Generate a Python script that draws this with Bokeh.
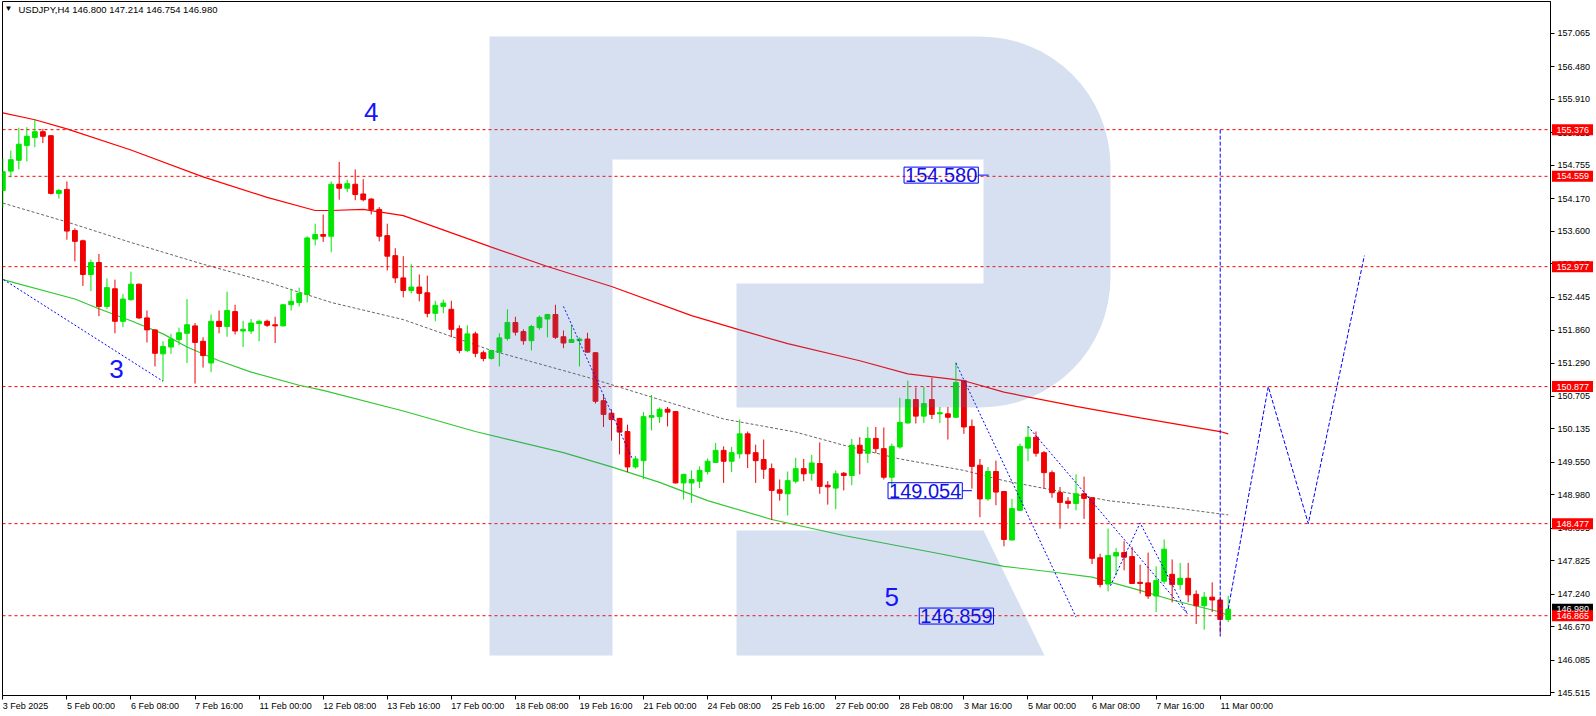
import math
from bokeh.plotting import figure
from bokeh.layouts import row
from bokeh.models import (Range1d, FixedTicker, PrintfTickFormatter, Span, Label,
                          ColumnDataSource)
from bokeh.core.properties import value
from bokeh.embed import file_html
from bokeh.resources import INLINE

# ---------------- data ----------------
symbol = "USDJPY,H4"

opens = [154.31, 154.65, 154.84, 155.10, 155.24, 155.34, 155.27, 154.26, 154.33, 153.61,
         153.43, 152.84, 153.05, 152.28, 152.59, 152.02, 152.40, 152.67, 152.08, 151.87,
         151.45, 151.57, 151.70, 151.81, 151.94, 151.67, 151.29, 152.02, 151.93, 152.19,
         151.85, 151.85, 151.98, 152.02, 151.96, 151.94, 152.31, 152.35, 152.49, 153.46,
         153.54, 153.51, 154.42, 154.35, 154.42, 154.25, 154.16, 153.98, 153.52, 153.17,
         152.78, 152.56, 152.62, 152.52, 152.16, 152.28, 152.23, 151.89, 151.51, 151.80,
         151.47, 151.37, 151.48, 151.72, 152.00, 151.84, 151.68, 151.91, 152.06, 152.14,
         151.75, 151.65, 151.68, 151.71, 151.47, 150.63, 150.41, 150.32, 150.09, 149.47,
         149.58, 150.34, 150.35, 150.48, 150.44, 149.19, 149.19, 149.22, 149.39, 149.55,
         149.76, 149.57, 149.70, 150.05, 149.72, 149.60, 149.44, 149.07, 149.00, 149.22,
         149.44, 149.36, 149.53, 149.15, 149.10, 149.36, 149.32, 149.85, 149.71, 149.97,
         149.79, 149.29, 149.82, 150.24, 150.65, 150.36, 150.65, 150.40, 150.40, 150.34,
         150.98, 150.18, 149.50, 148.91, 149.39, 149.04, 148.19, 148.71, 149.80, 149.99,
         149.72, 149.37, 149.02, 148.87, 148.83, 149.00, 148.93, 147.88, 147.42, 147.91,
         147.97, 147.90, 147.45, 147.44, 147.21, 147.47, 147.59, 147.41, 147.52, 147.24,
         147.04, 147.19, 147.14, 146.800]
highs = [154.87, 155.01, 155.41, 155.42, 155.55, 155.39, 155.28, 154.34, 154.47, 153.65,
         153.45, 153.10, 153.20, 152.77, 152.75, 152.50, 152.89, 152.68, 152.21, 151.88,
         151.67, 151.80, 151.91, 152.41, 151.99, 151.74, 152.14, 152.21, 152.54, 152.31,
         152.03, 152.06, 152.05, 152.05, 152.10, 152.32, 152.59, 152.61, 153.51, 153.73,
         153.89, 154.47, 154.81, 154.50, 154.68, 154.51, 154.18, 154.02, 153.73, 153.30,
         153.16, 153.02, 152.84, 152.82, 152.38, 152.40, 152.38, 151.95, 151.95, 151.84,
         151.51, 151.51, 151.81, 152.23, 152.10, 151.88, 151.96, 152.12, 152.15, 152.31,
         151.86, 151.96, 151.74, 151.82, 151.48, 150.74, 150.48, 150.33, 150.21, 149.66,
         150.43, 150.73, 150.51, 150.52, 150.45, 149.35, 149.41, 149.48, 149.62, 149.89,
         149.83, 149.82, 150.30, 150.09, 149.86, 149.95, 149.53, 149.25, 149.39, 149.63,
         149.61, 149.68, 149.90, 149.22, 149.41, 149.38, 149.96, 149.99, 150.17, 150.17,
         150.16, 149.88, 150.68, 150.98, 150.86, 150.87, 151.03, 150.52, 150.52, 151.30,
         150.99, 150.30, 149.61, 149.47, 149.58, 149.05, 148.91, 149.88, 150.18, 150.09,
         149.75, 149.41, 149.12, 148.94, 149.34, 149.30, 148.94, 147.95, 148.39, 148.05,
         148.17, 148.07, 147.76, 147.97, 147.73, 148.20, 147.85, 147.79, 147.79, 147.31,
         147.28, 147.45, 147.20, 147.214]
lows = [154.01, 154.54, 154.68, 154.82, 155.07, 155.14, 154.24, 154.17, 153.45, 153.07,
        152.64, 152.55, 152.11, 152.24, 151.81, 151.92, 152.38, 152.06, 151.65, 151.23,
        150.97, 151.45, 151.60, 151.29, 150.93, 151.21, 151.13, 151.81, 151.75, 151.79,
        151.57, 151.80, 151.67, 151.92, 151.64, 151.93, 152.21, 152.28, 152.35, 153.35,
        153.41, 153.23, 154.15, 154.28, 154.14, 154.12, 153.89, 153.42, 152.91, 152.69,
        152.44, 152.51, 152.37, 152.09, 152.02, 152.16, 151.74, 151.46, 151.48, 151.39,
        151.32, 151.35, 151.23, 151.68, 151.77, 151.61, 151.51, 151.87, 151.74, 151.71,
        151.55, 151.65, 151.23, 151.47, 150.58, 150.17, 149.93, 149.69, 149.38, 149.44,
        149.26, 150.11, 150.24, 150.18, 149.18, 148.90, 148.84, 149.10, 149.34, 149.54,
        149.19, 149.38, 149.62, 149.45, 149.19, 149.26, 148.54, 148.88, 148.62, 149.18,
        149.22, 149.23, 149.00, 148.81, 148.73, 149.06, 149.15, 149.34, 149.54, 149.71,
        149.25, 149.12, 149.79, 150.23, 150.23, 150.24, 150.31, 150.24, 149.95, 150.33,
        150.05, 149.09, 148.59, 148.88, 148.80, 148.08, 148.19, 148.70, 149.57, 149.65,
        149.09, 148.93, 148.39, 148.74, 148.71, 148.56, 147.77, 147.36, 147.29, 147.57,
        147.66, 147.42, 147.25, 147.16, 146.93, 147.42, 147.10, 147.32, 147.10, 146.72,
        146.62, 146.93, 146.55, 146.754]
closes = [154.64, 154.85, 155.12, 155.26, 155.34, 155.26, 154.26, 154.31, 153.60, 153.42,
          152.84, 153.05, 152.28, 152.61, 152.02, 152.41, 152.67, 152.08, 151.87, 151.46,
          151.58, 151.71, 151.82, 151.96, 151.65, 151.42, 152.02, 151.93, 152.21, 151.85,
          151.88, 151.99, 152.02, 151.95, 151.94, 152.31, 152.37, 152.51, 153.48, 153.54,
          153.51, 154.42, 154.35, 154.43, 154.24, 154.15, 153.98, 153.51, 153.16, 152.78,
          152.56, 152.62, 152.51, 152.16, 152.30, 152.34, 151.88, 151.51, 151.80, 151.46,
          151.37, 151.51, 151.73, 152.00, 151.83, 151.68, 151.93, 152.09, 152.14, 151.74,
          151.64, 151.70, 151.71, 151.48, 150.62, 150.39, 150.30, 150.08, 149.47, 149.61,
          150.35, 150.37, 150.48, 150.43, 149.19, 149.34, 149.25, 149.41, 149.57, 149.76,
          149.57, 149.72, 150.05, 149.70, 149.58, 149.43, 149.06, 149.01, 149.23, 149.44,
          149.35, 149.54, 149.13, 149.12, 149.35, 149.32, 149.85, 149.71, 149.97, 149.79,
          149.29, 149.83, 150.25, 150.65, 150.36, 150.58, 150.39, 150.42, 150.34, 150.95,
          150.17, 149.48, 148.91, 149.39, 149.03, 148.20, 148.74, 149.83, 149.99, 149.71,
          149.37, 149.02, 148.85, 148.83, 149.00, 148.92, 147.87, 147.41, 147.92, 147.97,
          147.89, 147.43, 147.43, 147.21, 147.48, 148.03, 147.41, 147.52, 147.23, 147.04,
          147.19, 147.14, 146.80, 146.980]

x_tick_idx = [0, 8, 16, 24, 32, 40, 48, 56, 64, 72, 80, 88, 96, 104, 112, 120, 128, 136, 144, 152]
x_tick_labels = ["3 Feb 2025", "5 Feb 00:00", "6 Feb 08:00", "7 Feb 16:00", "11 Feb 00:00",
                 "12 Feb 08:00", "13 Feb 16:00", "17 Feb 00:00", "18 Feb 08:00", "19 Feb 16:00",
                 "21 Feb 00:00", "24 Feb 08:00", "25 Feb 16:00", "27 Feb 00:00", "28 Feb 08:00",
                 "3 Mar 16:00", "5 Mar 00:00", "6 Mar 08:00", "7 Mar 16:00", "11 Mar 00:00"]
y_ticks = [157.065, 156.480, 155.910, 155.325, 154.755, 154.170, 153.600, 153.030, 152.445,
           151.860, 151.290, 150.705, 150.135, 149.550, 148.980, 148.395, 147.825, 147.240,
           146.670, 146.085, 145.515]

ma_red_idx = [0, 4, 8, 16, 25, 33, 39, 41, 45, 50, 61, 68, 76, 86, 92, 98, 107, 113, 120,
              125, 134, 142, 152, 153]
ma_red_val = [155.67, 155.55, 155.39, 155.02, 154.55, 154.19, 153.96, 153.96, 153.98, 153.87,
              153.32, 152.98, 152.63, 152.12, 151.87, 151.63, 151.33, 151.10, 150.98, 150.78,
              150.53, 150.33, 150.09, 150.05]
ma_gray_idx = [0, 8, 16, 25, 33, 41, 50, 61, 73, 82, 90, 99, 105, 112, 120, 125, 138, 147, 153]
ma_gray_val = [154.09, 153.76, 153.40, 153.02, 152.71, 152.35, 152.05, 151.51, 151.04, 150.65,
               150.31, 150.08, 149.85, 149.61, 149.41, 149.23, 148.88, 148.74, 148.63]
ma_green_idx = [0, 9, 12, 16, 20, 23, 27, 31, 37, 40, 50, 59, 70, 76, 82, 88, 96, 105, 117,
                125, 131, 136, 142, 146, 152, 153]
ma_green_val = [152.75, 152.41, 152.24, 152.03, 151.80, 151.57, 151.33, 151.13, 150.90, 150.81,
                150.45, 150.09, 149.72, 149.47, 149.20, 148.88, 148.55, 148.27, 147.95, 147.73,
                147.63, 147.54, 147.31, 147.14, 146.93, 146.87]

levels = [155.376, 154.559, 152.977, 150.877, 148.477, 146.865]
current_price = closes[-1]

# wave trend lines (bar index, price)
wave_x = [[0.1, 20.0], [70.0, 78.6], [119.0, 134.0], [128.0, 147.9], [138.3, 142.0, 147.9]]
wave_y = [[152.75, 150.97], [152.28, 149.61], [151.29, 146.84], [150.18, 146.90],
          [147.39, 148.49, 146.90]]
# forecast
forecast_vert_x = [152, 152]
forecast_vert_y = [155.376, 146.50]
forecast_x = [153, 158, 163, 170]
forecast_y = [146.98, 150.877, 148.477, 153.17]

wave_numbers = ["3", "4", "5"]
wave_number_idx = [14.2, 46.0, 111.0]
wave_number_price = [151.19, 155.68, 147.19]

note_values = [154.580, 149.054, 146.859]
note_box_right_idx = [121.8, 119.8, 123.7]
note_anchor_idx = [123.1, 121.0, 123.7]

# ---------------- layout constants ----------------
W, H = 1596, 716
FL, FR, FT, FB = 2, 1550, 1, 695          # frame edges on the page
X_START, X_END = -0.04, 193.24
Y_START, Y_END = 145.468, 157.620
PX_PER_BAR = (FR - FL) / (X_END - X_START)
FONT = "Liberation Sans"

CHAR_EM = {" ": 0.278, ":": 0.278, "F": 0.611, "e": 0.556, "b": 0.556, "M": 0.833,
           "a": 0.556, "r": 0.333}


def text_width(s, size=9.0):
    return sum(CHAR_EM.get(ch, 0.556) for ch in s) * size


p = figure(width=W, height=H, x_range=Range1d(X_START, X_END),
           y_range=Range1d(Y_START, Y_END), output_backend="svg", toolbar_location=None,
           y_axis_location="right", min_border_left=FL, min_border_top=FT,
           min_border_right=W - FR, min_border_bottom=H - FB)
p.extra_x_ranges = {"px": Range1d(FL, FR)}
p.extra_y_ranges = {"px": Range1d(FB, FT)}
p.background_fill_color = "white"
p.border_fill_color = "white"
p.outline_line_color = "black"
p.outline_line_width = 1
p.xgrid.visible = False
p.ygrid.visible = False

# x axis: labels start at their tick (MT4 style) -> label centres shifted by half width
label_pos = [t + text_width(lab) / 2 / PX_PER_BAR for t, lab in zip(x_tick_idx, x_tick_labels)]
xa = p.xaxis[0]
xa.ticker = FixedTicker(ticks=label_pos, minor_ticks=x_tick_idx)
xa.major_label_overrides = {t: lab for t, lab in zip(label_pos, x_tick_labels)}
xa.major_label_text_font = FONT
xa.major_label_text_font_size = "9px"
xa.major_label_text_color = "black"
xa.major_label_standoff = 1
xa.major_tick_out = 4
xa.major_tick_in = 0
xa.major_tick_line_color = None
xa.minor_tick_out = 4
xa.minor_tick_in = 0
xa.minor_tick_line_color = "black"
xa.axis_line_color = "black"

ya = p.yaxis[0]
ya.ticker = FixedTicker(ticks=y_ticks)
ya.formatter = PrintfTickFormatter(format="%.3f")
ya.major_label_text_font = FONT
ya.major_label_text_font_size = "9px"
ya.major_label_text_color = "black"
ya.major_label_standoff = 3
ya.major_tick_out = 4
ya.major_tick_in = 0
ya.minor_tick_line_color = None
ya.axis_line_color = "black"
ya.major_tick_line_color = "black"

# horizontal levels
for v in levels:
    p.add_layout(Span(location=v, dimension="width", line_color="#ff0000",
                      line_dash="3 3", line_width=1, level="underlay"))

# moving averages
p.line(ma_red_idx, ma_red_val, line_color="#ff0000", line_width=1.2)
p.line(ma_gray_idx, ma_gray_val, line_color="#666666", line_width=1, line_dash="3 2")
p.line(ma_green_idx, ma_green_val, line_color="#32c832", line_width=1.2)

# candles
BULL, BEAR = "#00e600", "#f00000"
src = ColumnDataSource(dict(
    x=list(range(len(opens))),
    high=highs, low=lows,
    top=[max(o, c) for o, c in zip(opens, closes)],
    bottom=[min(o, c) for o, c in zip(opens, closes)],
    color=[BULL if c >= o else BEAR for o, c in zip(opens, closes)],
))
p.segment(x0="x", y0="low", x1="x", y1="high", line_color="color", line_width=1, source=src)
p.vbar(x="x", width=0.6, top="top", bottom="bottom", fill_color="color",
       line_color="color", line_width=1, source=src)

# wave lines
for wx, wy in zip(wave_x, wave_y):
    p.line(wx, wy, line_color="#0000ff", line_width=1, line_dash="2 2")
p.line(forecast_vert_x, forecast_vert_y, line_color="#0000ff", line_width=1, line_dash="4 2")
p.line(forecast_x, forecast_y, line_color="#0000ff", line_width=1, line_dash="4 2")

# note anchors
for v, r, a in zip(note_values, note_box_right_idx, note_anchor_idx):
    if a > r:
        p.segment(x0=[r], y0=[v], x1=[a], y1=[v], line_color="#0000ff", line_width=1)


# watermark logo (page-pixel decoration, translucent overlay)
def arc(cx, cy, r, a0, a1, n=16):
    pts = []
    for k in range(n + 1):
        a = math.radians(a0 + (a1 - a0) * k / n)
        pts.append((cx + r * math.cos(a), cy + r * math.sin(a)))
    return pts


body = [(489, 36), (980, 36)] + arc(980, 166, 130, -90, 0) + arc(980, 277, 130, 0, 90) + \
       [(736, 407), (736, 283), (983, 283), (983, 159), (612, 159), (612, 655), (489, 655)]
leg = [(736, 530), (983, 530), (1044, 655), (736, 655)]
p.patches(xs=[[q[0] for q in body], [q[0] for q in leg]],
          ys=[[q[1] for q in body], [q[1] for q in leg]],
          fill_color="#4774bb", fill_alpha=0.22, line_color=None,
          x_range_name="px", y_range_name="px")

# wave numbers
for t, xi, yv in zip(wave_numbers, wave_number_idx, wave_number_price):
    p.add_layout(Label(x=xi, y=yv, text=t, text_align="center", text_baseline="middle",
                       text_color="#1414ff", text_font=FONT, text_font_size="26px"))

# price notes
for v, r in zip(note_values, note_box_right_idx):
    p.add_layout(Label(x=r, y=v, text=f"{v:.3f}", text_align="right", text_baseline="middle",
                       text_color="#1010e0", text_font=FONT, text_font_size="20px",
                       border_line_color="#0000ff", border_line_width=1, padding=1))

# header
p.add_layout(Label(x=4, y=3, x_range_name="px", y_range_name="px", text="\u25bc",
                   text_font=FONT, text_font_size="8px", text_color="black",
                   text_baseline="top"))
header = f"{symbol}  {opens[-1]:.3f} {highs[-1]:.3f} {lows[-1]:.3f} {closes[-1]:.3f}"
p.add_layout(Label(x=18, y=3, x_range_name="px", y_range_name="px", text=header,
                   text_font=FONT, text_font_size="9.5px", text_color="black",
                   text_baseline="top"))

# ---------------- price tags over the right axis (transparent overlay figure) ----------------
TAG_W = W - FR
tags = figure(width=TAG_W, height=H, x_range=Range1d(0, TAG_W), y_range=p.y_range,
              output_backend="svg", toolbar_location=None, x_axis_location=None,
              y_axis_location=None, min_border_left=0, min_border_right=0,
              min_border_top=FT, min_border_bottom=H - FB, margin=(0, 0, 0, -TAG_W))
tags.xgrid.visible = False
tags.ygrid.visible = False
tags.outline_line_color = None
tags.background_fill_alpha = 0
tags.border_fill_alpha = 0

tag_vals = [current_price] + levels
tag_colors = ["black"] + ["#ff0000"] * len(levels)
tag_src = ColumnDataSource(dict(
    x=[22.0] * len(tag_vals), tx=[6.0] * len(tag_vals), y=tag_vals,
    label=[f"{v:.3f}" for v in tag_vals], color=tag_colors))
tags.rect(x="x", y="y", width=41, height=11, width_units="screen", height_units="screen",
          fill_color="color", line_color=None, source=tag_src)
tags.text(x="tx", y="y", text="label", text_color="white", text_font=value(FONT),
          text_font_size=value("9px"), text_baseline="middle", source=tag_src)

layout = row(p, tags)
open("out.html", "w").write(file_html(layout, INLINE))
